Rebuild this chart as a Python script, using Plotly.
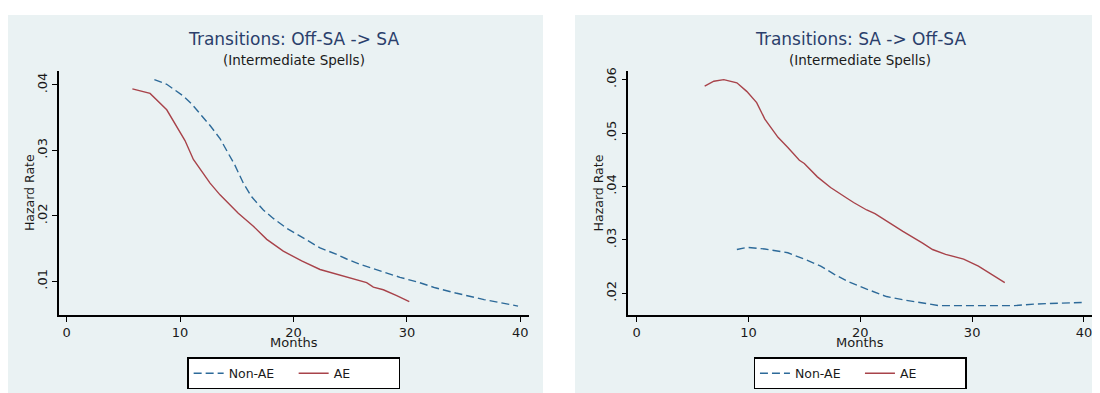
import plotly.graph_objects as go

# ---------------- data ----------------
# Left panel: Transitions Off-SA -> SA
left_ae_months = [5.79, 7.35, 8.82, 9.99, 10.43, 11.17, 11.75, 12.64, 13.52, 14.11, 15.13, 16.46,
                  17.64, 19.1, 20.72, 22.34, 23.81, 25.27, 26.45, 27.04, 27.92, 29.1, 30.21]
left_ae_hazard = [0.0394, 0.0387, 0.0362, 0.0328, 0.0315, 0.0286, 0.0272, 0.0250, 0.0232, 0.0222,
                  0.0204, 0.0184, 0.0164, 0.0146, 0.0131, 0.0118, 0.0111, 0.0103, 0.0098, 0.0091,
                  0.0087, 0.0078, 0.0069]
left_nonae_months = [7.73, 8.82, 10.28, 11.02, 11.9, 12.64, 13.52, 14.11, 14.84, 15.57, 16.31,
                     17.34, 18.22, 19.4, 20.86, 22.34, 23.81, 24.69, 25.86, 27.63, 29.39, 31.09,
                     32.5, 34.3, 36.8, 39.8]
left_nonae_hazard = [0.0408, 0.0401, 0.0383, 0.0371, 0.0353, 0.0338, 0.0318, 0.0300, 0.0277,
                     0.0250, 0.0229, 0.0209, 0.0196, 0.0181, 0.0166, 0.0151, 0.0141, 0.0134,
                     0.0126, 0.0116, 0.0106, 0.0098, 0.0090, 0.0082, 0.0072, 0.0062]

# Right panel: Transitions SA -> Off-SA
right_ae_months = [6.08, 6.9, 7.79, 8.96, 9.84, 10.73, 11.46, 12.64, 13.52, 14.55, 14.99, 16.16,
                   17.34, 18.22, 18.81, 19.4, 20.57, 21.31, 22.34, 23.81, 25.57, 26.46, 27.63,
                   29.24, 30.56, 31.89, 32.92]
right_ae_hazard = [0.0588, 0.0597, 0.0600, 0.0594, 0.0578, 0.0557, 0.0526, 0.0492, 0.0473, 0.0449,
                   0.0443, 0.0418, 0.0398, 0.0387, 0.0378, 0.0370, 0.0356, 0.0349, 0.0335, 0.0316,
                   0.0294, 0.0282, 0.0273, 0.0264, 0.0251, 0.0233, 0.0220]
right_nonae_months = [8.96, 9.84, 11.46, 12.49, 13.52, 14.99, 16.46, 17.64, 18.81, 20.57, 22.34,
                      23.81, 25.27, 27.04, 29.68, 33.8, 35.65, 39.8]
right_nonae_hazard = [0.0282, 0.0286, 0.0283, 0.0280, 0.0276, 0.0264, 0.0251, 0.0236, 0.0223,
                      0.0208, 0.0194, 0.0188, 0.0183, 0.0177, 0.0177, 0.0177, 0.0180, 0.0183]

x_ticks = [0, 10, 20, 30, 40]
left_y_ticks = [0.01, 0.02, 0.03, 0.04]
left_y_labels = [".01", ".02", ".03", ".04"]
right_y_ticks = [0.02, 0.03, 0.04, 0.05, 0.06]
right_y_labels = [".02", ".03", ".04", ".05", ".06"]

titles = ["Transitions: Off-SA -> SA", "Transitions: SA -> Off-SA"]
subtitle = "(Intermediate Spells)"
series_names = ["Non-AE", "AE"]
x_title = "Months"
y_title = "Hazard Rate"

# ---------------- styling ----------------
OFF = 8                      # the page body margin offsets the figure by 8 px
W, H = 1100 - 2 * OFF, 393 - OFF
BG = "#EAF2F3"
BLUE = "#2D6A99"
RED = "#A8434A"
TITLE_C = "#2B3F6C"
TXT = "#1a1a1a"
FONT = "DejaVu Sans"


def px(x):
    return (x - OFF) / W


def py(y):
    return 1 - (y - OFF) / H


fig = go.Figure()

panels = [
    (left_nonae_months, left_nonae_hazard, left_ae_months, left_ae_hazard, "x", "y", "legend"),
    (right_nonae_months, right_nonae_hazard, right_ae_months, right_ae_hazard, "x2", "y2", "legend2"),
]
for nx, ny, ax, ay, xa, ya, lg in panels:
    fig.add_trace(go.Scatter(x=nx, y=ny, mode="lines", name=series_names[0],
                             line=dict(color=BLUE, width=1.4, dash="8px,4px"),
                             xaxis=xa, yaxis=ya, legend=lg))
    fig.add_trace(go.Scatter(x=ax, y=ay, mode="lines", name=series_names[1],
                             line=dict(color=RED, width=1.4),
                             xaxis=xa, yaxis=ya, legend=lg))

# plot-area geometry in page pixels
L1, R1 = 59, 528.7
L2, R2 = 628.3, 1092
TOP, BOT = 68, 314

xcommon = dict(tickmode="array", tickvals=x_ticks, ticks="outside", ticklen=5, tickwidth=1.2,
               tickcolor="black", showline=True, linecolor="black", linewidth=1.6,
               showgrid=False, zeroline=False, ticklabeloverflow="allow",
               tickfont=dict(family=FONT, size=13, color=TXT))
ycommon = dict(ticks="outside", ticklen=5, tickwidth=1.2, tickcolor="black", showline=True,
               linecolor="black", linewidth=1.6, showgrid=True, gridcolor=BG, gridwidth=1.3,
               zeroline=False, tickangle=-90, tickfont=dict(family=FONT, size=13, color=TXT))

legend_common = dict(orientation="h", xanchor="center", y=py(357), yanchor="top",
                     bgcolor="white", bordercolor="black", borderwidth=1.3,
                     font=dict(family=FONT, size=12.5, color=TXT), entrywidth=60,
                     entrywidthmode="pixels", tracegroupgap=0)

fig.update_layout(
    width=W, height=H,
    margin=dict(l=0, r=0, t=0, b=0),
    paper_bgcolor="white", plot_bgcolor="white",
    font=dict(family=FONT, color=TXT),
    xaxis=dict(domain=[px(L1), px(R1)], range=[-0.68, 40.74], anchor="y", **xcommon),
    yaxis=dict(domain=[py(BOT), py(TOP)], range=[0.00487, 0.04207], anchor="x",
               tickmode="array", tickvals=left_y_ticks, ticktext=left_y_labels, **ycommon),
    xaxis2=dict(domain=[px(L2), px(R2)], range=[-0.75, 40.72], anchor="y2", **xcommon),
    yaxis2=dict(domain=[py(BOT), py(TOP)], range=[0.01598, 0.06154], anchor="x2",
                tickmode="array", tickvals=right_y_ticks, ticktext=right_y_labels, **ycommon),
    legend=dict(x=px((L1 + R1) / 2), **legend_common),
    legend2=dict(x=px((L2 + R2) / 2), **legend_common),
    showlegend=True,
)

# panel backgrounds
for x0, x1 in [(6, 543), (575, 1092)]:
    fig.add_shape(type="rect", xref="paper", yref="paper", x0=max(px(x0), 0), x1=min(px(x1), 1),
                  y0=0, y1=py(11), fillcolor=BG, line=dict(width=0), layer="below")

# titles and axis titles
for title, (l, r) in zip(titles, [(L1, R1), (L2, R2)]):
    cx = px((l + r) / 2)
    fig.add_annotation(text=title, x=cx, y=py(35), xref="paper", yref="paper", showarrow=False,
                       xanchor="center", yanchor="middle",
                       font=dict(family=FONT, size=17, color=TITLE_C))
    fig.add_annotation(text=subtitle, x=cx, y=py(57), xref="paper", yref="paper", showarrow=False,
                       xanchor="center", yanchor="middle",
                       font=dict(family=FONT, size=13.5, color=TXT))
    fig.add_annotation(text=x_title, x=cx, y=py(342), xref="paper", yref="paper", showarrow=False,
                       xanchor="center", yanchor="middle",
                       font=dict(family=FONT, size=13, color=TXT))
    fig.add_annotation(text=y_title, x=px(l - 30), y=py((TOP + BOT) / 2), xref="paper",
                       yref="paper", showarrow=False, xanchor="center", yanchor="middle",
                       textangle=-90, font=dict(family=FONT, size=12.5, color=TXT))

fig.write_html("out.html")
